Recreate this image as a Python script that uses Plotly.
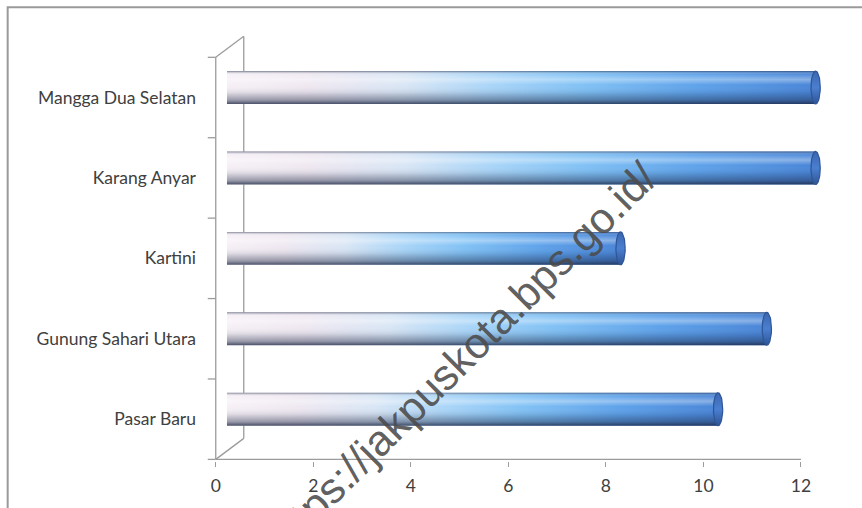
import numpy as np
import plotly.graph_objects as go

# Data (bottom to top)
categories = ["Pasar Baru", "Gunung Sahari Utara", "Kartini", "Karang Anyar", "Mangga Dua Selatan"]
values = [10, 11, 8, 12, 12]
x_ticks = [0, 2, 4, 6, 8, 10, 12]
watermark = "https://jakpuskota.bps.go.id/"

# Canvas geometry
W, H = 862, 508
X_UNIT = 48.75          # pixels per x unit
Y_UNIT = 80.4           # pixels per category slot
X0_PX = 216.0           # pixel of x = 0
YB_PX = 459.0           # pixel of category floor (y = -0.5)
X_RANGE = [-0.2, 12.8]
Y_RANGE = [-0.52, 4.79]

ML = X0_PX + X_RANGE[0] * X_UNIT
PW = (X_RANGE[1] - X_RANGE[0]) * X_UNIT
MR = W - ML - PW
MB = H - (YB_PX + (-0.5 - Y_RANGE[0]) * Y_UNIT)
PH = (Y_RANGE[1] - Y_RANGE[0]) * Y_UNIT
MT = H - MB - PH


def to_paper(px, py):
    return (px - ML) / PW, (H - MB - py) / PH


# 3D depth of the chart box, in data units
DEPTH_X = 28 / X_UNIT
DEPTH_Y = 21 / Y_UNIT
BAR_START = 0.23
BAR_SHIFT = 0.30
BAR_LIFT = 0.124
BAR_HALF = 0.205
CAP_RX = 0.095

AXIS_COLOR = "#9c9c9c"
TEXT_COLOR = "#404040"
LABEL_FONT = "Lato"
LABEL_SIZE = 17.5

fig = go.Figure()

h_scale = [
    [0.0, "#f6f0f6"],
    [0.14, "#efe8f1"],
    [0.30, "#d9e6f5"],
    [0.45, "#a9d5f8"],
    [0.60, "#82c2f5"],
    [0.80, "#5ea2ea"],
    [1.0, "#4985d7"],
]
v_scale = [
    [0.0, "rgba(25,35,65,0.78)"],
    [0.12, "rgba(25,35,65,0.42)"],
    [0.35, "rgba(25,35,65,0.10)"],
    [0.58, "rgba(255,255,255,0.0)"],
    [0.74, "rgba(255,255,255,0.35)"],
    [0.90, "rgba(255,255,255,0.05)"],
    [1.0, "rgba(25,35,65,0.55)"],
]

for i, (cat, v) in enumerate(zip(categories, values)):
    yc = i + BAR_LIFT
    xe = v + BAR_SHIFT
    bx = [BAR_START, xe, xe, BAR_START, BAR_START]
    by = [yc - BAR_HALF, yc - BAR_HALF, yc + BAR_HALF, yc + BAR_HALF, yc - BAR_HALF]
    # cylinder body, colour running along its length
    fig.add_trace(go.Scatter(
        x=bx, y=by, mode="lines", fill="toself", line=dict(width=0),
        fillgradient=dict(type="horizontal", colorscale=h_scale),
        hoverinfo="skip", name=cat,
    ))
    # round shading across the cylinder
    fig.add_trace(go.Scatter(
        x=bx, y=by, mode="lines", fill="toself", line=dict(width=0),
        fillgradient=dict(type="vertical", colorscale=v_scale),
        hoverinfo="skip", name=cat,
    ))
    # end face of the cylinder
    t = np.linspace(0, 2 * np.pi, 60)
    fig.add_trace(go.Scatter(
        x=xe + CAP_RX * np.cos(t), y=yc + BAR_HALF * np.sin(t),
        mode="lines", fill="toself",
        line=dict(width=1.2, color="#2f5596"),
        fillgradient=dict(type="vertical", colorscale=[
            [0.0, "#2f5596"], [0.5, "#4a7fd0"], [1.0, "#3a66b0"]]),
        hoverinfo="skip", name=cat,
    ))

shapes = []
line_style = dict(color=AXIS_COLOR, width=1.3)
n = len(categories)


def edge(x0, x1, y0, y1):
    return dict(type="line", xref="x", yref="y", x0=x0, x1=x1, y0=y0, y1=y1,
                line=line_style, layer="below")


# front vertical axis and its category separators
shapes.append(edge(0, 0, -0.5, n - 0.5))
for k in range(n + 1):
    shapes.append(edge(-8 / X_UNIT, 0, k - 0.5, k - 0.5))
# floor edge (value axis)
shapes.append(edge(0, x_ticks[-1], -0.5, -0.5))
# back wall edges (behind the cylinders)
shapes.append(edge(0, DEPTH_X, n - 0.5, n - 0.5 + DEPTH_Y))
shapes.append(edge(DEPTH_X, DEPTH_X, -0.5 + DEPTH_Y, n - 0.5 + DEPTH_Y))
shapes.append(edge(0, DEPTH_X, -0.5, -0.5 + DEPTH_Y))
# outer frame
fx0, fy0 = to_paper(8, 7)
fx1, fy1 = to_paper(872, 520)
shapes.append(dict(type="rect", xref="paper", yref="paper", x0=fx0, x1=fx1, y0=fy1, y1=fy0,
                   line=dict(color="#9a9a9a", width=2), layer="below"))

wx, wy = to_paper(461, 358)

fig.update_layout(
    width=W, height=H,
    margin=dict(l=ML, r=MR, t=MT, b=MB, autoexpand=False),
    paper_bgcolor="white", plot_bgcolor="white",
    showlegend=False,
    shapes=shapes,
    xaxis=dict(
        range=X_RANGE, tickvals=x_ticks, ticktext=[str(v) for v in x_ticks],
        ticks="outside", ticklen=5, tickcolor=AXIS_COLOR, tickwidth=1.2,
        ticklabelstandoff=4,
        showgrid=False, zeroline=False, showline=False,
        tickfont=dict(family=LABEL_FONT, size=LABEL_SIZE, color=TEXT_COLOR),
        fixedrange=True,
    ),
    yaxis=dict(
        range=Y_RANGE, tickvals=list(range(n)), ticktext=categories,
        ticks="", showgrid=False, zeroline=False, showline=False,
        ticklabelstandoff=9,
        tickfont=dict(family=LABEL_FONT, size=LABEL_SIZE, color=TEXT_COLOR),
        fixedrange=True,
    ),
    annotations=[dict(
        text=watermark, xref="paper", yref="paper", x=wx, y=wy,
        xanchor="center", yanchor="middle",
        showarrow=False, textangle=-45,
        font=dict(family="Liberation Sans", size=43, color="rgba(75,75,75,0.9)"),
    )],
)

fig.write_html("out.html")
